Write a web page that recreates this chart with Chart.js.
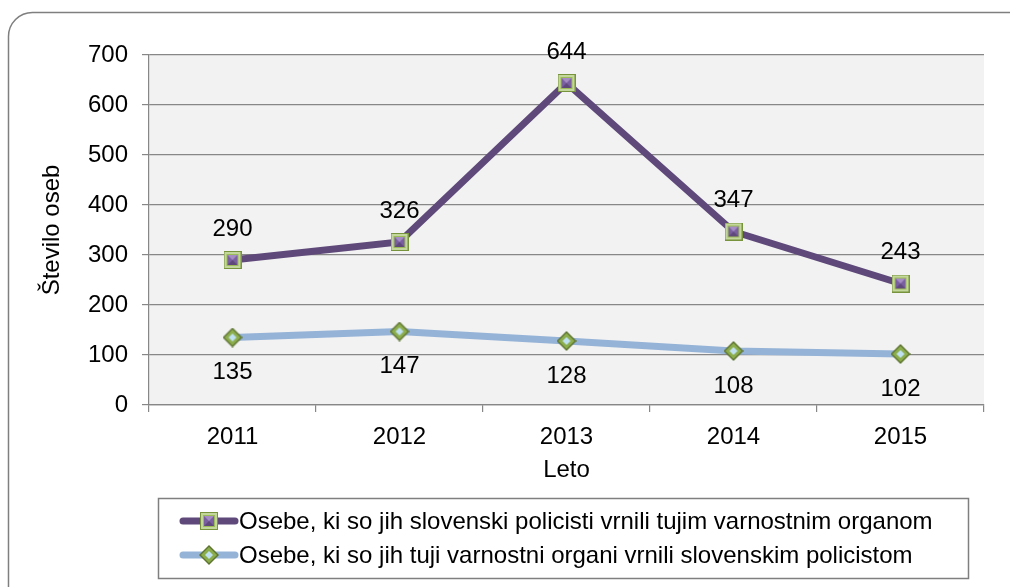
<!DOCTYPE html>
<html>
<head>
<meta charset="utf-8">
<script src="https://cdn.jsdelivr.net/npm/chart.js@4"></script>
<style>
  html, body { margin: 0; padding: 0; background: #fff; }
  canvas { display: block; }
</style>
</head>
<body>
<canvas id="chart" width="1010" height="587"></canvas>
<script>
const years = ["2011", "2012", "2013", "2014", "2015"];
const returnedToForeign = [290, 326, 644, 347, 243];
const returnedToSlovenian = [135, 147, 128, 108, 102];
const seriesNames = [
  "Osebe, ki so jih slovenski policisti vrnili tujim varnostnim organom",
  "Osebe, ki so jih tuji varnostni organi vrnili slovenskim policistom"
];
const yTicks = [0, 100, 200, 300, 400, 500, 600, 700];

const FONT = "'Liberation Sans', Arial, sans-serif";

// square marker: green frame, purple centre
function squareMarker() {
  const c = document.createElement("canvas");
  c.width = 18; c.height = 18;
  const g = c.getContext("2d");
  g.fillStyle = "#77933c";
  g.fillRect(0, 0, 18, 18);
  g.fillStyle = "#c3d69b";
  g.fillRect(1, 1, 16, 16);
  g.fillStyle = "#9bbb59";
  g.fillRect(3, 3, 12, 12);
  g.fillStyle = "#7a5fa0";
  g.fillRect(4, 4, 10, 10);
  g.fillStyle = "#a58dc4";
  g.beginPath(); g.moveTo(4, 4); g.lineTo(14, 4); g.lineTo(9, 9); g.closePath(); g.fill();
  g.fillStyle = "#5f497a";
  g.beginPath(); g.moveTo(4, 14); g.lineTo(14, 14); g.lineTo(9, 9); g.closePath(); g.fill();
  return c;
}

// diamond marker: green with light blue centre
function diamondMarker() {
  const c = document.createElement("canvas");
  c.width = 20; c.height = 20;
  const g = c.getContext("2d");
  g.fillStyle = "#5e7530";
  g.beginPath(); g.moveTo(10, 0); g.lineTo(20, 10); g.lineTo(10, 20); g.lineTo(0, 10); g.closePath(); g.fill();
  g.fillStyle = "#8cad4c";
  g.beginPath(); g.moveTo(10, 2); g.lineTo(18, 10); g.lineTo(10, 18); g.lineTo(2, 10); g.closePath(); g.fill();
  g.fillStyle = "#bfe0f0";
  g.beginPath(); g.moveTo(10, 6); g.lineTo(14, 10); g.lineTo(10, 14); g.lineTo(6, 10); g.closePath(); g.fill();
  return c;
}

const sq = squareMarker();
const dm = diamondMarker();

const frame = {
  id: "frame",
  beforeDraw(chart) {
    const { ctx, chartArea: a } = chart;
    ctx.save();
    ctx.fillStyle = "#fff";
    ctx.fillRect(0, 0, chart.width, chart.height);
    ctx.strokeStyle = "#7f7f7f";
    ctx.lineWidth = 1.5;
    ctx.beginPath();
    ctx.roundRect(8.5, 12.5, 1030, 600, 24);
    ctx.stroke();
    ctx.fillStyle = "#f2f2f2";
    ctx.fillRect(a.left, a.top, a.right - a.left, a.bottom - a.top);
    ctx.restore();
  }
};

const valueLabels = {
  id: "valueLabels",
  afterDatasetsDraw(chart) {
    const ctx = chart.ctx;
    ctx.save();
    ctx.font = "24px " + FONT;
    ctx.fillStyle = "#000";
    ctx.textAlign = "center";
    ctx.textBaseline = "middle";
    chart.data.datasets.forEach((ds, i) => {
      const meta = chart.getDatasetMeta(i);
      meta.data.forEach((pt, j) => {
        const dy = i === 0 ? -31 : 35;
        ctx.fillText(String(ds.data[j]), pt.x, pt.y + dy);
      });
    });
    ctx.restore();
  }
};

const legendBox = {
  id: "legendBox",
  afterDraw(chart) {
    const ctx = chart.ctx;
    ctx.save();
    ctx.strokeStyle = "#7f7f7f";
    ctx.lineWidth = 1.5;
    ctx.strokeRect(158.5, 498.5, 810, 80);
    ctx.font = "24px " + FONT;
    ctx.textBaseline = "middle";
    ctx.textAlign = "left";
    chart.data.datasets.forEach((ds, i) => {
      const y = 521 + i * 34;
      ctx.strokeStyle = ds.borderColor;
      ctx.lineWidth = 7;
      ctx.lineCap = "round";
      ctx.beginPath();
      ctx.moveTo(183, y);
      ctx.lineTo(235, y);
      ctx.stroke();
      const img = ds.pointStyle;
      ctx.drawImage(img, 209 - img.width / 2, y - img.height / 2);
      ctx.fillStyle = "#000";
      ctx.fillText(ds.label, 239, y + 1);
    });
    ctx.restore();
  }
};

new Chart(document.getElementById("chart"), {
  type: "line",
  data: {
    labels: years,
    datasets: [
      {
        label: seriesNames[0],
        data: returnedToForeign,
        borderColor: "#5f497a",
        borderWidth: 7,
        pointStyle: sq,
        pointRadius: 9,
        tension: 0
      },
      {
        label: seriesNames[1],
        data: returnedToSlovenian,
        borderColor: "#95b3d7",
        borderWidth: 7,
        pointStyle: dm,
        pointRadius: 10,
        tension: 0
      }
    ]
  },
  options: {
    responsive: false,
    animation: false,
    layout: { padding: { left: 30, top: 55, right: 26, bottom: 100 } },
    plugins: {
      legend: { display: false },
      tooltip: { enabled: false }
    },
    scales: {
      x: {
        offset: true,
        grid: { offset: true, drawOnChartArea: false, drawTicks: true, tickLength: 7, color: "#878787", lineWidth: 1.2 },
        border: { display: true, color: "#878787", width: 1.2 },
        ticks: { color: "#000", font: { family: FONT, size: 24 }, padding: 11 },
        title: { display: true, text: "Leto", color: "#000", font: { family: FONT, size: 24 }, padding: { top: 4, bottom: 2 } },
        afterFit: s => { s.height = 82; }
      },
      y: {
        min: 0,
        max: 700,
        afterBuildTicks: s => { s.ticks = yTicks.map(v => ({ value: v })); },
        grid: { color: "#878787", lineWidth: 1.2, tickLength: 7 },
        border: { display: true, color: "#878787", width: 1.2 },
        ticks: { color: "#000", font: { family: FONT, size: 24 }, padding: 14 },
        title: { display: true, text: "Število oseb", color: "#000", font: { family: FONT, size: 24 }, padding: { top: 8, bottom: 4 } },
        afterFit: s => { s.width = 119; }
      }
    }
  },
  plugins: [frame, valueLabels, legendBox]
});
</script>
</body>
</html>
